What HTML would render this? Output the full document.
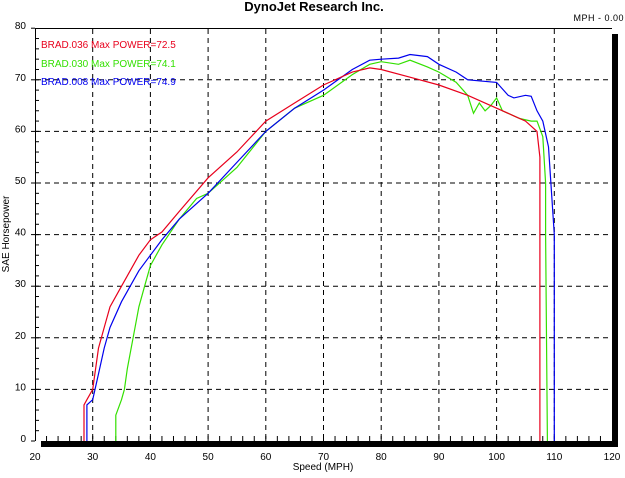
<!DOCTYPE html>
<html><head><style>
body{margin:0;background:#fff;width:625px;height:473px;overflow:hidden}
svg text{font-family:"Liberation Sans",Arial,sans-serif}
</style></head><body>
<svg id="s" width="625" height="473" xmlns="http://www.w3.org/2000/svg">
<text x="314" y="11" font-size="13" font-weight="bold" text-anchor="middle">DynoJet Research Inc.</text>
<text x="624" y="21" font-size="9" text-anchor="end" letter-spacing="0.5">MPH - 0.00</text>
<rect x="612" y="34" width="6" height="413" fill="#000"/>
<rect x="41" y="441" width="577" height="6" fill="#000"/>
<g id="grid" stroke="#000" stroke-width="1" stroke-dasharray="5,4"></g>
<g id="ticks" stroke="#000" stroke-width="1"></g>
<line x1="35" y1="28.5" x2="612" y2="28.5" stroke="#000"/>
<line x1="35.5" y1="28" x2="35.5" y2="441" stroke="#000"/>
<g id="lab" font-size="10"></g>
<text x="9" y="234" font-size="10" text-anchor="middle" transform="rotate(-90 9 234)">SAE Horsepower</text>
<text x="323" y="470" font-size="10" text-anchor="middle">Speed (MPH)</text>
<g font-size="10">
<text x="41" y="48" fill="#e8001c">BRAD.036  Max POWER=72.5</text>
<text x="41" y="67" fill="#33e000">BRAD.030  Max POWER=74.1</text>
<text x="41" y="85" fill="#0000ee">BRAD.008  Max POWER=74.9</text>
</g>
<g id="curves" fill="none" stroke-width="1.2"></g>
</svg>
<script>
var X=v=>35+(v-20)*5.77, Y=h=>441-h*5.16;
var ns="http://www.w3.org/2000/svg";
function el(p,t,a){var e=document.createElementNS(ns,t);for(var k in a)e.setAttribute(k,a[k]);document.getElementById(p).appendChild(e);return e;}
for(var v=30;v<=110;v+=10)el("grid","line",{x1:X(v),y1:29,x2:X(v),y2:441});
for(var h=10;h<=70;h+=10)el("grid","line",{x1:36,y1:Y(h),x2:612,y2:Y(h)});
for(var v=22;v<120;v+=2)el("ticks","line",{x1:X(v),y1:441,x2:X(v),y2:436});
for(var h=2;h<80;h+=2)el("ticks","line",{x1:35,y1:Y(h),x2:39,y2:Y(h)});
for(var h=0;h<=80;h+=10){el("ticks","line",{x1:31,y1:Y(h),x2:35,y2:Y(h)});var t=el("lab","text",{x:26,y:Y(h)+1,"text-anchor":"end"});t.textContent=h;}
for(var v=20;v<=120;v+=10){var t=el("lab","text",{x:X(v),y:460,"text-anchor":"middle"});t.textContent=v;}
var R=[[28.5,0],[28.5,7],[29,8],[30,10],[31,18],[32,22],[33,26],[35,30],[38,36],[40,39],[42,40.5],[45,44.5],[50,51],[55,56],[60,62],[65,65.5],[70,69],[75,71.5],[78,72.3],[80,72],[85,70.5],[90,69],[95,67],[100,64.5],[103,63],[105,62],[106,61],[107,60],[107.5,55],[107.5,0]];
var G=[[34,0],[34,5],[35,8],[35.5,10],[36,14],[37,20],[38,26],[39,30],[40,34],[42,38],[45,43],[48,47],[50,48],[55,53],[60,60],[65,64.5],[70,67],[75,71],[78,73],[80,73.5],[83,73],[85,73.8],[88,72.5],[90,71.5],[93,69.5],[95,67],[96,63.5],[97,65.5],[98,64],[99,65],[100,66.5],[101,64],[102,63.5],[104,62.5],[106,62],[107,62],[108,59],[108.5,50],[108.5,40],[108.8,0]];
var B=[[29,0],[29,7],[30,8],[31,13],[32,18],[33,22],[35,27],[38,33],[40,36],[42,39],[45,43],[50,48],[55,54],[60,60],[65,64.5],[70,68],[75,72],[78,73.8],[80,74],[83,74.2],[85,74.9],[88,74.5],[90,73],[93,71.5],[95,70],[100,69.5],[102,67],[103,66.5],[105,67],[106,66.8],[107,64],[108,62],[109,57],[110,40],[110,0]];
[[G,"#33e000"],[B,"#0000ee"],[R,"#e8001c"]].forEach(function(c){el("curves","polyline",{points:c[0].map(p=>X(p[0]).toFixed(1)+","+Y(p[1]).toFixed(1)).join(" "),stroke:c[1]});});
</script>
</body></html>
